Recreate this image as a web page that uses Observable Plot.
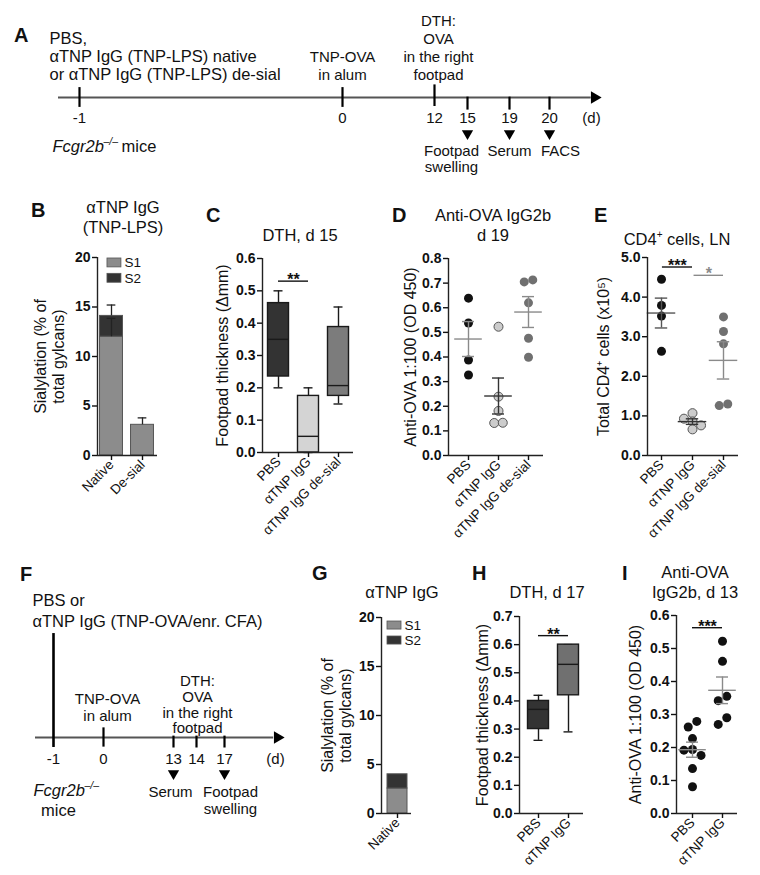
<!DOCTYPE html>
<html><head><meta charset="utf-8">
<script src="https://cdn.jsdelivr.net/npm/d3@7"></script>
<script src="https://cdn.jsdelivr.net/npm/@observablehq/plot@0.6"></script>
<style>
body{margin:0;background:#fff;}
#fig{position:relative;width:760px;height:875px;overflow:hidden;font-family:"Liberation Sans",Arial,Helvetica,sans-serif;color:#111;background:#fff;}
#fig svg{position:absolute;left:0;top:0;}
.lbl{position:absolute;font-weight:bold;font-size:20px;line-height:1;}
.ttl{position:absolute;width:240px;text-align:center;font-size:16.5px;line-height:20px;white-space:nowrap;}
</style></head><body><div id="fig"></div>
<script>
// ================= DATA =================
// Panel A timeline
const A_treatDays = [-1, 0];
const A_challengeDays = [12];
const A_readoutDays = [15, 19, 20];
const A_readoutLabels = ["Footpad\nswelling", "Serum", "FACS"];
const A_tickDays = [-1, 0, 12, 15, 19, 20];
const A_tickLabels = ["-1", "0", "12", "15", "19", "20"];
const A_treatText = "PBS,\nαTNP IgG (TNP-LPS) native\nor αTNP IgG (TNP-LPS) de-sial";
const A_immunText = "TNP-OVA\nin alum";
const A_dthText = "DTH:\nOVA\nin the right\nfootpad";

// Panel B – sialylation (stacked)
const B_groups = ["Native", "De-sial"];
const B_S1 = [12.0, 3.1];
const B_S2 = [2.1, 0];
const B_S1_err = [1.85, 0.7];
const B_S2_err = [1.1, 0];
const B_yticks = [0, 5, 10, 15, 20];

// Panel C – DTH d15 box plots
const C_groups = ["PBS", "αTNP IgG", "αTNP IgG de-sial"];
const C_min = [0.20, 0.00, 0.15];
const C_q1  = [0.235, 0.00, 0.175];
const C_med = [0.35, 0.05, 0.207];
const C_q3  = [0.462, 0.175, 0.388];
const C_max = [0.50, 0.20, 0.45];
const C_yticks = [0, 0.1, 0.2, 0.3, 0.4, 0.5, 0.6];

// Panel D – Anti-OVA IgG2b d19
const D_groups = ["PBS", "αTNP IgG", "αTNP IgG de-sial"];
const D_PBS = [0.639, 0.538, 0.388, 0.327];
const D_TNP = [0.523, 0.239, 0.181, 0.132, 0.133];
const D_DES = [0.713, 0.705, 0.620, 0.476, 0.399];
const D_yticks = [0, 0.1, 0.2, 0.3, 0.4, 0.5, 0.6, 0.7, 0.8];

// Panel E – CD4+ cells LN
const E_groups = ["PBS", "αTNP IgG", "αTNP IgG de-sial"];
const E_PBS = [4.45, 3.79, 3.52, 2.63];
const E_TNP = [1.07, 0.93, 0.86, 0.76, 0.66];
const E_DES = [3.50, 3.13, 2.82, 1.30, 1.26];
const E_yticks = [0, 1, 2, 3, 4, 5];

// Panel F timeline
const F_treatDay = -1;
const F_immunDays = [0];
const F_smallTickDays = [13, 14, 17];
const F_readoutDays = [13, 17];
const F_readoutLabels = ["Serum", "Footpad\nswelling"];
const F_tickDays = [-1, 0, 13, 14, 17];
const F_tickLabels = ["-1", "0", "13", "14", "17"];
const F_treatText = "PBS or\nαTNP IgG (TNP-OVA/enr. CFA)";
const F_immunText = "TNP-OVA\nin alum";
const F_dthText = "DTH:\nOVA\nin the right\nfootpad";

// Panel G – sialylation
const G_groups = ["Native"];
const G_S1 = [2.55];
const G_S2 = [1.45];

// Panel H – DTH d17 box plots
const H_groups = ["PBS", "αTNP IgG"];
const H_min = [0.26, 0.29];
const H_q1  = [0.30, 0.42];
const H_med = [0.37, 0.53];
const H_q3  = [0.40, 0.60];
const H_max = [0.42, 0.60];
const H_yticks = [0, 0.1, 0.2, 0.3, 0.4, 0.5, 0.6, 0.7];

// Panel I – Anti-OVA IgG2b d13
const I_groups = ["PBS", "αTNP IgG"];
const I_PBS = [0.279, 0.262, 0.227, 0.194, 0.192, 0.176, 0.136, 0.081];
const I_TNP = [0.522, 0.461, 0.355, 0.342, 0.290, 0.270];
const I_yticks = [0, 0.1, 0.2, 0.3, 0.4, 0.5, 0.6];

// ================= LAYOUT / STYLE =================
const W = 760, H = 875;
const FONT = '"Liberation Sans", Arial, Helvetica, sans-serif';
const STYLE = {background: "transparent", fontFamily: FONT, fontSize: "13px", color: "#111", overflow: "visible"};
const fig = document.getElementById("fig");
const add = el => fig.appendChild(el);
const S1C = "#8c8c8c", S2C = "#333333";
const f1 = d3.format(".1f");

function ylabelMark(text, dx) {
  return Plot.text([text], {text: d => d, frameAnchor: "left", textAnchor: "middle", lineAnchor: "middle", rotate: -90, dx, fontSize: 16, lineHeight: 1.1});
}

function catPlot(fr, cats, ydom, yticks, yfmt, ylabel, ylabelDx, marks) {
  const xd = [(fr.l - fr.c0) / fr.step, (fr.r - fr.c0) / fr.step];
  return Plot.plot({
    width: W, height: H,
    marginLeft: fr.l, marginRight: W - fr.r, marginTop: fr.t, marginBottom: H - fr.b,
    style: STYLE,
    x: {domain: xd}, y: {domain: ydom},
    color: {type: "identity"},
    marks: [
      ...marks,
      Plot.ruleX([xd[0]], {stroke: "#222", strokeWidth: 1.4}),
      Plot.ruleY([ydom[0]], {stroke: "#222", strokeWidth: 1.4}),
      Plot.axisY({ticks: yticks, tickFormat: yfmt, tickSize: 5, tickPadding: 2, fontSize: 14, fontWeight: "bold", strokeWidth: 1.4, label: null}),
      Plot.axisX({ticks: d3.range(cats.length), tickFormat: i => cats[i], tickSize: 5, tickRotate: -45, tickPadding: 2, fontSize: 13.5, strokeWidth: 1.4, label: null}),
      ylabelMark(ylabel, ylabelDx)
    ]
  });
}

function stackRows(S1, S2) {
  return S1.flatMap((v, i) => [
    {i, y1: 0, y2: v, fill: S1C},
    {i, y1: v, y2: v + S2[i], fill: S2C}
  ]).filter(d => d.y2 > d.y1);
}

function boxMarks(mins, q1, med, q3, maxs, fills, bw, cw) {
  const rows = mins.map((m, i) => ({i, min: m, q1: q1[i], med: med[i], q3: q3[i], max: maxs[i], fill: fills[i]}));
  const st = {stroke: "#1a1a1a", strokeWidth: 1.4};
  return [
    Plot.ruleX(rows, {x: "i", y1: "min", y2: "q1", ...st}),
    Plot.ruleX(rows, {x: "i", y1: "q3", y2: "max", ...st}),
    Plot.ruleY(rows, {x1: d => d.i - cw, x2: d => d.i + cw, y: "min", ...st}),
    Plot.ruleY(rows, {x1: d => d.i - cw, x2: d => d.i + cw, y: "max", ...st}),
    Plot.rect(rows, {x1: d => d.i - bw, x2: d => d.i + bw, y1: "q1", y2: "q3", fill: "fill", ...st}),
    Plot.ruleY(rows, {x1: d => d.i - bw, x2: d => d.i + bw, y: "med", ...st})
  ];
}

function swarm(vals, pxY, pxX, r) {
  const n = vals.length, xs = new Array(n).fill(0);
  const order = d3.range(n).sort((a, b) => vals[b] - vals[a]);
  const placed = [];
  const minD = 1.75 * r, stepX = 0.95 * r;
  for (const k of order) {
    const y = vals[k] * pxY;
    for (const o of [0, -1, 1, -2, 2, -3, 3]) {
      const x = o * stepX;
      if (placed.every(j => Math.hypot(xs[j] - x, vals[j] * pxY - y) >= minD)) { xs[k] = x; break; }
    }
    placed.push(k);
  }
  const comp = new Array(n).fill(-1); let c = 0;
  for (let a = 0; a < n; a++) {
    if (comp[a] >= 0) continue;
    const stack = [a]; comp[a] = c;
    while (stack.length) {
      const u = stack.pop();
      for (let v = 0; v < n; v++) if (comp[v] < 0 && Math.abs(vals[u] - vals[v]) * pxY < 2 * r) { comp[v] = c; stack.push(v); }
    }
    c++;
  }
  for (let ci = 0; ci < c; ci++) {
    const m = d3.range(n).filter(i => comp[i] === ci);
    const mean = d3.mean(m, i => xs[i]);
    m.forEach(i => xs[i] -= mean);
  }
  return xs.map(x => x / pxX);
}

function dotMarks(fr, ydom, groupsVals, fills, strokes, errColors) {
  const pxY = (fr.b - fr.t) / (ydom[1] - ydom[0]);
  const r = 4.5;
  const pts = groupsVals.flatMap((vals, g) => {
    const off = swarm(vals, pxY, fr.step, r);
    return vals.map((v, k) => ({g, x: g + off[k], v}));
  });
  const stats = groupsVals.map((vals, g) => {
    const m = d3.mean(vals), s = d3.deviation(vals) / Math.sqrt(vals.length);
    return {g, m, lo: m - s, hi: m + s, c: errColors[g]};
  });
  return [
    Plot.dot(pts, {x: "x", y: "v", r, fill: d => fills[d.g], stroke: d => strokes[d.g], strokeWidth: 1}),
    Plot.ruleY(stats, {x1: d => d.g - 0.46, x2: d => d.g + 0.46, y: "m", stroke: "c", strokeWidth: 1.4}),
    Plot.ruleX(stats, {x: "g", y1: "lo", y2: "hi", stroke: "c", strokeWidth: 1.4}),
    Plot.ruleY(stats, {x1: d => d.g - 0.2, x2: d => d.g + 0.2, y: "lo", stroke: "c", strokeWidth: 1.4}),
    Plot.ruleY(stats, {x1: d => d.g - 0.2, x2: d => d.g + 0.2, y: "hi", stroke: "c", strokeWidth: 1.4})
  ];
}

function sigMarks(a, b, y, label, color = "#111") {
  return [
    Plot.ruleY([y], {x1: a, x2: b, y: d => d, stroke: color, strokeWidth: 1.4}),
    Plot.text([label], {x: (a + b) / 2, y, text: d => d, fontSize: 16, fontWeight: "bold", fill: color, lineAnchor: "middle", dy: -1})
  ];
}

// schematic (non-proportional) day axis: the scale's transform maps days onto the drawn timeline
function timelinePlot(sched, y0, unit, marks) {
  return Plot.plot({
    width: W, height: H, margin: 0, style: STYLE,
    x: {transform: sched, domain: [0, W], range: [0, W], axis: null},
    y: {domain: [0, 1], range: [y0, y0 - unit], axis: null},
    marks
  });
}
const T = {text: d => d, fontSize: 15};
const TL = {text: d => d, fontSize: 16.5};

// ================= PANEL A =================
const A_sched = d3.scaleLinear().domain([-1.8, -1, 0, 12, 15, 19, 20, 22.2]).range([58, 79, 342, 434, 467, 509, 549, 600]);
const A_readoutDx = [-16, 0, 11];
add(timelinePlot(A_sched, 97, 18, [
  Plot.ruleY([0], {x1: -1.8, x2: 21.8, y: d => d, stroke: "#555", strokeWidth: 1.8}),
  Plot.dot([22.2], {x: d => d, y: 0, symbol: "triangle", rotate: 90, r: 4.6, fill: "#000", dx: -6}),
  Plot.ruleX(A_treatDays, {x: d => d, y1: -0.55, y2: 0.55, stroke: "#000", strokeWidth: 2.2}),
  Plot.ruleX(A_challengeDays, {x: d => d, y1: -0.5, y2: 0.7, stroke: "#000", strokeWidth: 2.2}),
  Plot.ruleX(A_readoutDays, {x: d => d, y1: 0.02, y2: -0.7, stroke: "#000", strokeWidth: 2.2}),
  Plot.text(A_tickLabels, {...T, x: (d, i) => A_tickDays[i], y: -1.17}),
  Plot.text(["(d)"], {...T, x: 22.2, dx: -9, y: -1.17}),
  Plot.dot(A_readoutDays, {x: d => d, y: -2.0, symbol: "triangle", rotate: 180, r: 4.2, fill: "#000"}),
  ...A_readoutDays.map((day, i) => Plot.text([A_readoutLabels[i]], {...T, x: day, dx: A_readoutDx[i], y: -2.56, lineAnchor: "top", lineHeight: 1.12})),
  Plot.text([A_treatText], {...TL, x: -1, dx: -30, y: 0.95, textAnchor: "start", lineAnchor: "bottom", lineHeight: 1.1}),
  Plot.text([A_immunText], {...T, x: 0, y: 0.95, lineAnchor: "bottom", lineHeight: 1.2}),
  Plot.text([A_dthText], {...T, x: 12, dx: 4, y: 0.95, lineAnchor: "bottom", lineHeight: 1.2}),
  Plot.text(["Fcgr2b"], {...TL, x: -1, dx: -27, y: -2.72, textAnchor: "start", fontStyle: "italic"}),
  Plot.text(["–/–"], {...T, x: -1, dx: 24, dy: -5, y: -2.72, textAnchor: "start", fontSize: 10.5, fontStyle: "italic"}),
  Plot.text(["mice"], {...TL, x: -1, dx: 42, y: -2.72, textAnchor: "start"})
]));

// ================= PANEL B =================
const FR_B = {l: 97, r: 157, t: 257, b: 455, c0: 111, step: 31};
const B_err = [
  ...B_S1.map((v, i) => ({i, y1: v, y2: v + B_S1_err[i]})),
  ...B_S2.map((v, i) => ({i, y1: B_S1[i] + v, y2: B_S1[i] + v + B_S2_err[i]}))
].filter(d => d.y2 > d.y1);
const B_legend = [{s: "S1", c: S1C, y: 19.45}, {s: "S2", c: S2C, y: 17.9}];
add(catPlot(FR_B, B_groups, [0, 20], B_yticks, d => d, "Sialylation (% of\ntotal gylcans)", -48, [
  Plot.rect(stackRows(B_S1, B_S2), {x1: d => d.i - 0.37, x2: d => d.i + 0.37, y1: "y1", y2: "y2", fill: "fill", stroke: "#555", strokeWidth: 1}),
  Plot.ruleX(B_err, {x: "i", y1: "y1", y2: "y2", stroke: "#222", strokeWidth: 1.3}),
  Plot.ruleY(B_err, {x1: d => d.i - 0.14, x2: d => d.i + 0.14, y: "y2", stroke: "#222", strokeWidth: 1.3}),
  Plot.rect(B_legend, {x1: -0.13, x2: 0.32, y1: d => d.y - 0.45, y2: d => d.y + 0.45, fill: "c", stroke: "#555", strokeWidth: 0.8}),
  Plot.text(B_legend, {x: 0.32, dx: 3, y: "y", text: "s", textAnchor: "start", fontSize: 13.5})
]));

// ================= PANEL C =================
const FR_C = {l: 262, r: 353, t: 258, b: 452, c0: 278, step: 30};
add(catPlot(FR_C, C_groups, [0, 0.6], C_yticks, f1, "Footpad thickness (Δmm)", -40, [
  ...boxMarks(C_min, C_q1, C_med, C_q3, C_max, ["#333333", "#d4d4d4", "#7c7c7c"], 0.35, 0.15),
  ...sigMarks(0, 1, 0.53, "**")
]));

// ================= PANEL D =================
const FR_D = {l: 448, r: 543, t: 258, b: 455, c0: 468, step: 30};
add(catPlot(FR_D, D_groups, [0, 0.8], D_yticks, f1, "Anti-OVA 1:100 (OD 450)", -38, [
  ...dotMarks(FR_D, [0, 0.8], [D_PBS, D_TNP, D_DES], ["#111", "#cccccc", "#707070"], ["none", "#555", "none"], ["#8a8a8a", "#333", "#8a8a8a"])
]));

// ================= PANEL E =================
const FR_E = {l: 647, r: 738, t: 257, b: 455, c0: 661, step: 31};
add(catPlot(FR_E, E_groups, [0, 5], E_yticks, f1, "Total CD4⁺ cells (x10⁵)", -44, [
  ...dotMarks(FR_E, [0, 5], [E_PBS, E_TNP, E_DES], ["#111", "#cccccc", "#707070"], ["none", "#555", "none"], ["#555", "#333", "#8a8a8a"]),
  ...sigMarks(0.03, 1, 4.76, "***"),
  ...sigMarks(1.05, 2, 4.55, "*", "#8a8a8a")
]));

// ================= PANEL F =================
const F_sched = d3.scaleLinear().domain([-1.36, -1, 0, 13, 14, 17, 19.4]).range([35, 53, 103, 173, 196, 224, 283]);
const F_readoutDx = [-3, 6];
add(timelinePlot(F_sched, 737, 17.5, [
  Plot.ruleY([0], {x1: -1.36, x2: 19.0, y: d => d, stroke: "#555", strokeWidth: 1.8}),
  Plot.dot([19.4], {x: d => d, y: 0, symbol: "triangle", rotate: 90, r: 4.6, fill: "#000", dx: -6}),
  Plot.ruleX([F_treatDay], {x: d => d, y1: -0.57, y2: 5.94, stroke: "#000", strokeWidth: 2.6}),
  Plot.ruleX(F_immunDays, {x: d => d, y1: -0.55, y2: 0.55, stroke: "#000", strokeWidth: 2.2}),
  Plot.ruleX(F_smallTickDays, {x: d => d, y1: 0.08, y2: -0.6, stroke: "#000", strokeWidth: 2.2}),
  Plot.text(F_tickLabels, {...T, x: (d, i) => F_tickDays[i], y: -1.26}),
  Plot.text(["(d)"], {...T, x: 19.4, dx: -8, y: -1.26}),
  Plot.dot(F_readoutDays, {x: d => d, y: -2.06, symbol: "triangle", rotate: 180, r: 4.2, fill: "#000"}),
  ...F_readoutDays.map((day, i) => Plot.text([F_readoutLabels[i]], {...T, x: day, dx: F_readoutDx[i], y: -2.74, lineAnchor: "top", lineHeight: 1.1})),
  Plot.text([F_treatText], {...TL, x: -1, dx: -21, y: 6.29, textAnchor: "start", lineAnchor: "bottom", lineHeight: 1.3}),
  Plot.text([F_immunText], {...T, x: 0, dx: 4, y: 0.97, lineAnchor: "bottom", lineHeight: 1.1}),
  Plot.text([F_dthText], {...T, x: 14, dx: 1, y: 0.23, lineAnchor: "bottom", lineHeight: 1.05}),
  Plot.text(["Fcgr2b"], {...TL, x: -1, dx: -20, y: -3.03, textAnchor: "start", fontStyle: "italic"}),
  Plot.text(["–/–"], {...T, x: -1, dx: 31, dy: -5, y: -3.03, textAnchor: "start", fontSize: 10.5, fontStyle: "italic"}),
  Plot.text(["mice"], {...TL, x: -1, dx: 5, y: -4.17})
]));

// ================= PANEL G =================
const FR_G = {l: 381, r: 411, t: 617, b: 813, c0: 397, step: 20};
const G_legend = [{s: "S1", c: S1C, y: 19.18}, {s: "S2", c: S2C, y: 17.65}];
add(catPlot(FR_G, G_groups, [0, 20], B_yticks, d => d, "Sialylation (% of\ntotal gylcans)", -45, [
  Plot.rect(stackRows(G_S1, G_S2), {x1: d => d.i - 0.5, x2: d => d.i + 0.5, y1: "y1", y2: "y2", fill: "fill", stroke: "#555", strokeWidth: 1}),
  Plot.rect(G_legend, {x1: -0.5, x2: 0.2, y1: d => d.y - 0.41, y2: d => d.y + 0.41, fill: "c", stroke: "#555", strokeWidth: 0.8}),
  Plot.text(G_legend, {x: 0.2, dx: 3, y: "y", text: "s", textAnchor: "start", fontSize: 13.5})
]));

// ================= PANEL H =================
const FR_H = {l: 519, r: 583, t: 616, b: 813, c0: 538, step: 30};
add(catPlot(FR_H, H_groups, [0, 0.7], H_yticks, f1, "Footpad thickness (Δmm)", -37, [
  ...boxMarks(H_min, H_q1, H_med, H_q3, H_max, ["#333333", "#707070"], 0.35, 0.15),
  ...sigMarks(0, 1, 0.632, "**")
]));

// ================= PANEL I =================
const FR_I = {l: 676, r: 737, t: 615, b: 813, c0: 692, step: 30};
add(catPlot(FR_I, I_groups, [0, 0.6], I_yticks, f1, "Anti-OVA 1:100 (OD 450)", -41, [
  ...dotMarks(FR_I, [0, 0.6], [I_PBS, I_TNP], ["#111", "#111"], ["none", "none"], ["#8a8a8a", "#8a8a8a"]),
  ...sigMarks(0, 1, 0.563, "***")
]));

// ================= LETTERS & TITLES =================
const letters = [["A", 14, 25], ["B", 31, 200], ["C", 206, 205], ["D", 392, 205], ["E", 594, 205],
                 ["F", 20, 564], ["G", 312, 563], ["H", 472, 563], ["I", 622, 563]];
letters.forEach(([t, x, y]) => {
  const d = document.createElement("div"); d.className = "lbl"; d.textContent = t;
  d.style.left = x + "px"; d.style.top = y + "px"; add(d);
});
const titles = [["αTNP IgG<br>(TNP-LPS)", 123, 197], ["DTH, d 15", 300, 225], ["Anti-OVA IgG2b<br>d 19", 493, 205],
                ["CD4<sup style='font-size:10px'>+</sup> cells, LN", 677, 225],
                ["αTNP IgG", 402, 582], ["DTH, d 17", 547, 582], ["Anti-OVA<br>IgG2b, d 13", 695, 562]];
titles.forEach(([t, cx, y]) => {
  const d = document.createElement("div"); d.className = "ttl"; d.innerHTML = t;
  d.style.left = (cx - 120) + "px"; d.style.top = y + "px"; add(d);
});
</script></body></html>
